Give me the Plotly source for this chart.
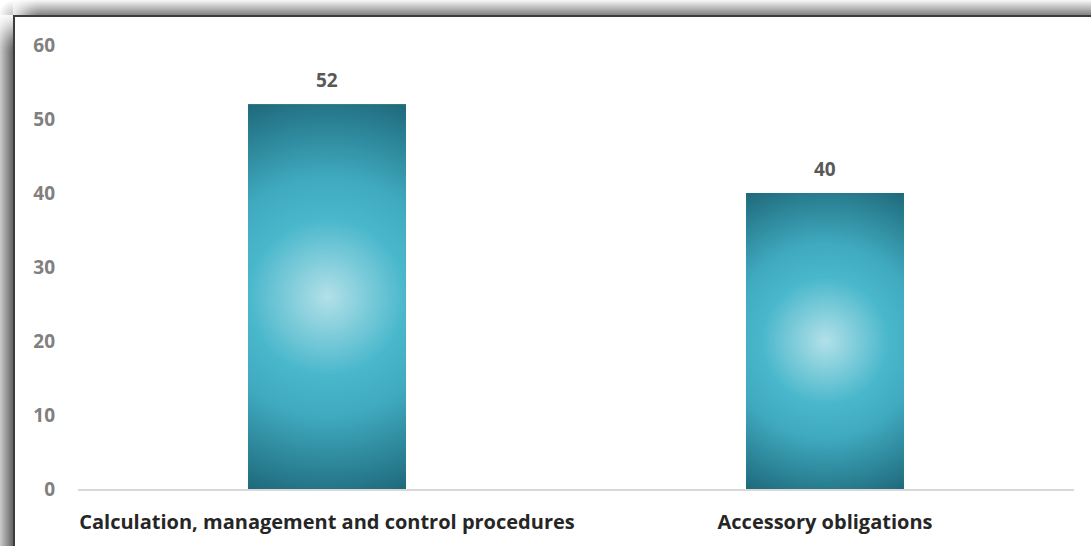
import base64
import struct
import zlib

import numpy as np
import plotly.graph_objects as go

# ---- data -------------------------------------------------------------
categories = ["Calculation, management and control procedures", "Accessory obligations"]
values = [52, 40]
y_ticks = [0, 10, 20, 30, 40, 50, 60]

# ---- geometry / style -------------------------------------------------
W, H = 1091, 546
ML, MR, MT, MB = 78, 17, 45, 57
PW, PH = W - ML - MR, H - MT - MB
BAR_W = 0.317
Y_MAX = 60
FONT = "Open Sans"


def png_uri(rgb):
    """Encode an (h, w, 3) uint8 array as a PNG data URI."""
    h, w, _ = rgb.shape
    raw = b"".join(b"\x00" + rgb[i].tobytes() for i in range(h))

    def chunk(tag, data):
        c = struct.pack(">I", len(data)) + tag + data
        return c + struct.pack(">I", zlib.crc32(tag + data) & 0xFFFFFFFF)

    png = b"\x89PNG\r\n\x1a\n"
    png += chunk(b"IHDR", struct.pack(">IIBBBBB", w, h, 8, 2, 0, 0, 0))
    png += chunk(b"IDAT", zlib.compress(raw, 9))
    png += chunk(b"IEND", b"")
    return "data:image/png;base64," + base64.b64encode(png).decode()


def hex_rgb(h):
    h = h.lstrip("#")
    return np.array([int(h[i:i + 2], 16) for i in (0, 2, 4)], dtype=float)


# radial gradient stops: position (0 = centre, 1 = corner) and colour
GRAD_POS = [0.0, 0.38, 0.58, 1.0]
GRAD_COL = [hex_rgb(c) for c in ("#b3e1e9", "#4ab8cc", "#40aac0", "#1f6a7b")]


def radial_bar(w_px, h_px):
    yy, xx = np.mgrid[0:h_px, 0:w_px].astype(float)
    cx, cy = (w_px - 1) / 2, (h_px - 1) / 2
    r = np.hypot(xx - cx, yy - cy) / np.hypot(cx, cy)
    out = np.zeros((h_px, w_px, 3))
    for ch in range(3):
        out[..., ch] = np.interp(r, GRAD_POS, [c[ch] for c in GRAD_COL])
    return np.clip(out, 0, 255).astype(np.uint8)


def smooth(t):
    t = np.clip(t, 0, 1)
    return t * t * (3 - 2 * t)


def frame_background():
    """White sheet with a dark top/left edge and a soft drop shadow."""
    img = np.full((H, W), 255.0)
    yy, xx = np.mgrid[0:H, 0:W].astype(float)
    top = yy < 15
    left = xx < 13
    # top shadow
    t_dark = (10 + (yy / 14) * 110) * smooth((xx - 2) / 40)
    img = np.where(top & ~left, 255 - t_dark, img)
    # left shadow
    l_dark = (55 + (xx / 12) * 95) * smooth((yy - 8) / 45)
    img = np.where(left & ~top, 255 - l_dark, img)
    # corner
    d = np.hypot(13 - xx, 15 - yy)
    c_dark = 60 * np.clip(1 - d / 15, 0, 1)
    img = np.where(top & left, 255 - c_dark, img)
    # dark edges
    edge = ((xx >= 13) & (xx < 15) & (yy >= 15)) | ((yy >= 15) & (yy < 17) & (xx >= 13))
    img = np.where(edge, 60, img)
    img = np.clip(img, 0, 255).astype(np.uint8)
    return np.repeat(img[..., None], 3, axis=2)


x_pos = list(range(len(categories)))

fig = go.Figure()
fig.add_trace(
    go.Bar(
        x=x_pos,
        y=values,
        width=BAR_W,
        marker=dict(color="#3a9fb4", line=dict(width=0)),
        hoverinfo="skip",
    )
)

images = [
    dict(
        source=png_uri(frame_background()),
        xref="paper", yref="paper",
        x=-ML / PW, y=1 + MT / PH,
        sizex=W / PW, sizey=H / PH,
        xanchor="left", yanchor="top",
        sizing="stretch", layer="below",
    )
]
for xi, v in zip(x_pos, values):
    w_px = int(round(BAR_W / 2 * PW))
    h_px = int(round(v / Y_MAX * PH))
    images.append(
        dict(
            source=png_uri(radial_bar(w_px, h_px)),
            xref="x", yref="y",
            x=xi - BAR_W / 2, y=v,
            sizex=BAR_W, sizey=v,
            xanchor="left", yanchor="top",
            sizing="stretch", layer="above",
        )
    )

annotations = [
    dict(
        x=xi, y=v, xref="x", yref="y",
        text=str(v), showarrow=False,
        yanchor="bottom", yshift=9,
        font=dict(family=FONT, size=19, color="#595959", weight="bold"),
    )
    for xi, v in zip(x_pos, values)
]

fig.update_layout(
    width=W, height=H,
    margin=dict(l=ML, r=MR, t=MT, b=MB, pad=0),
    paper_bgcolor="white",
    plot_bgcolor="rgba(0,0,0,0)",
    showlegend=False,
    images=images,
    annotations=annotations,
    xaxis=dict(
        range=[-0.5, len(categories) - 0.5],
        tickvals=x_pos,
        ticktext=categories,
        showgrid=False,
        zeroline=False,
        showline=True,
        linecolor="#d9d9d9",
        linewidth=2,
        ticks="",
        ticklabelstandoff=14,
        tickfont=dict(family=FONT, size=20, color="#262626", weight="bold"),
    ),
    yaxis=dict(
        range=[0, Y_MAX],
        tickvals=y_ticks,
        showgrid=False,
        zeroline=False,
        showline=False,
        ticks="",
        ticklabelstandoff=22,
        tickfont=dict(family=FONT, size=19, color="#808080", weight="bold"),
    ),
)

fig.write_html(
    "out.html",
    config={"displayModeBar": False},
    post_script="document.documentElement.style.overflow='hidden';"
    "document.body.style.margin='0';document.body.style.overflow='hidden';",
)
